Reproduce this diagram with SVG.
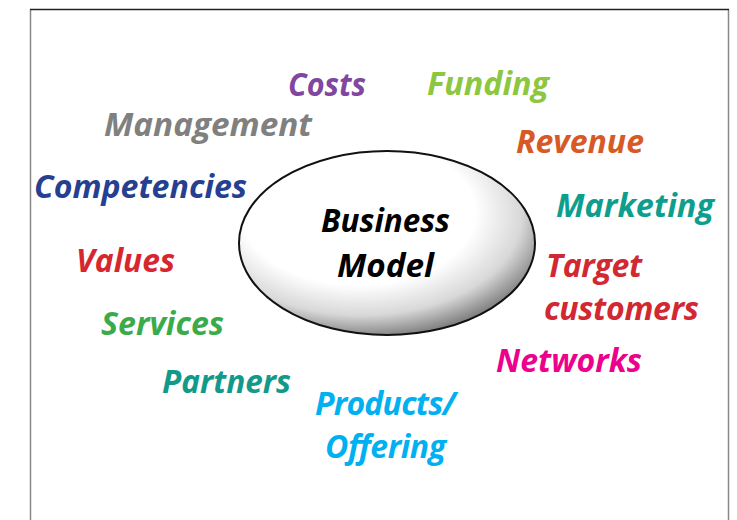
<svg xmlns="http://www.w3.org/2000/svg" width="737" height="520" viewBox="0 0 737 520">
<style>
.t{font-family:"Open Sans","Noto Sans",sans-serif;font-weight:700;font-style:italic;font-size:32px}
</style>
<defs>
<radialGradient id="g" cx="0.42" cy="0.36" r="0.68" fx="0.38" fy="0.3">
<stop offset="0" stop-color="#ffffff"/>
<stop offset="0.58" stop-color="#ffffff"/>
<stop offset="0.8" stop-color="#d8d8d8"/>
<stop offset="1" stop-color="#6e6e6e"/>
</radialGradient>
</defs>
<rect width="737" height="520" fill="#ffffff"/>
<g id="frame" fill="none">
<line x1="30.5" y1="9.5" x2="30.5" y2="520" stroke="#888" stroke-width="1.5"/>
<line x1="728.5" y1="9.5" x2="728.5" y2="520" stroke="#888" stroke-width="1.5"/>
<line x1="30" y1="9.5" x2="729" y2="9.5" stroke="#222" stroke-width="1.5"/>
</g>
<g id="center">
<ellipse cx="387" cy="243" rx="148" ry="92" fill="url(#g)" stroke="#111" stroke-width="2"/>
<text class="t" x="321" y="232" fill="#000" textLength="129" lengthAdjust="spacingAndGlyphs">Business</text>
<text class="t" x="337" y="277" fill="#000" textLength="97" lengthAdjust="spacingAndGlyphs">Model</text>
</g>
<g id="costs"><text class="t" x="288" y="96" fill="#7f47a0" textLength="78" lengthAdjust="spacingAndGlyphs">Costs</text></g>
<g id="funding"><text class="t" x="427" y="95" fill="#8dc63f" textLength="122" lengthAdjust="spacingAndGlyphs">Funding</text></g>
<g id="management"><text class="t" x="104" y="136" fill="#808080" textLength="208" lengthAdjust="spacingAndGlyphs">Management</text></g>
<g id="revenue"><text class="t" x="516" y="153" fill="#d75a26" textLength="128" lengthAdjust="spacingAndGlyphs">Revenue</text></g>
<g id="competencies"><text class="t" x="34" y="198" fill="#263f90" textLength="213" lengthAdjust="spacingAndGlyphs">Competencies</text></g>
<g id="marketing"><text class="t" x="556" y="217" fill="#0d9e8e" textLength="158" lengthAdjust="spacingAndGlyphs">Marketing</text></g>
<g id="values"><text class="t" x="76" y="272" fill="#d8262e" textLength="99" lengthAdjust="spacingAndGlyphs">Values</text></g>
<g id="target"><text class="t" fill="#d12832" lengthAdjust="spacingAndGlyphs"><tspan x="546" y="277" textLength="96">Target</tspan><tspan x="544" y="320" textLength="155">customers</tspan></text></g>
<g id="services"><text class="t" x="101" y="335" fill="#3bab4a" textLength="123" lengthAdjust="spacingAndGlyphs">Services</text></g>
<g id="networks"><text class="t" x="496" y="372" fill="#ec008c" textLength="146" lengthAdjust="spacingAndGlyphs">Networks</text></g>
<g id="partners"><text class="t" x="162" y="393" fill="#11998a" textLength="129" lengthAdjust="spacingAndGlyphs">Partners</text></g>
<g id="products"><text class="t" fill="#00b0f0" lengthAdjust="spacingAndGlyphs"><tspan x="315" y="415" textLength="141">Products/</tspan><tspan x="325" y="458" textLength="121">Offering</tspan></text></g>
</svg>
